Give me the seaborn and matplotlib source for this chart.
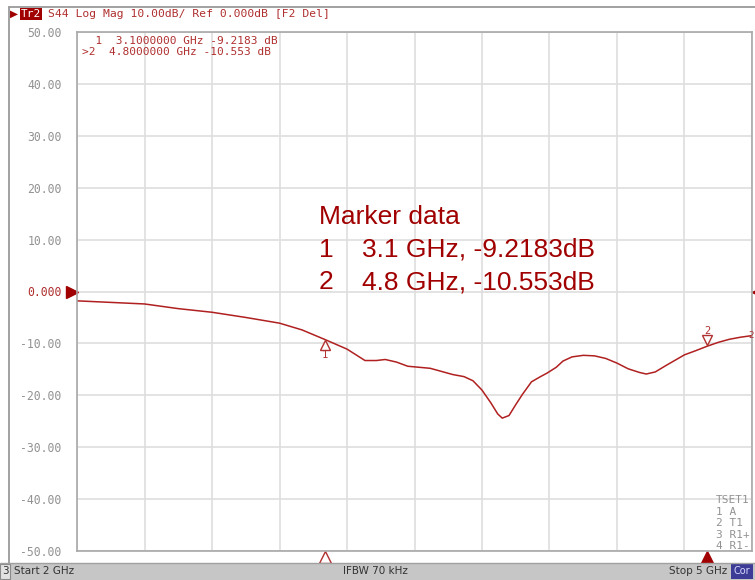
import numpy as np
import matplotlib
matplotlib.use("Agg")
import matplotlib.pyplot as plt
from matplotlib.patches import Rectangle
from matplotlib.lines import Line2D
from matplotlib.transforms import offset_copy
import seaborn as sns

# trace S44
freq_ghz = [2.00, 2.15, 2.30, 2.45, 2.60, 2.75, 2.90, 3.00, 3.10, 3.20,
            3.28, 3.33, 3.37, 3.42, 3.47, 3.52, 3.57, 3.62, 3.67, 3.72,
            3.76, 3.80, 3.84, 3.87, 3.89, 3.92, 3.95, 3.98, 4.02, 4.06,
            4.09, 4.13, 4.16, 4.20, 4.25, 4.30, 4.35, 4.40, 4.45, 4.50,
            4.53, 4.57, 4.62, 4.66, 4.70, 4.75, 4.80, 4.85, 4.90, 4.95, 5.00]
s44_db = [-1.8, -2.1, -2.4, -3.3, -4.0, -5.0, -6.1, -7.4, -9.2183, -11.1,
          -13.3, -13.3, -13.1, -13.6, -14.4, -14.6, -14.8, -15.4, -16.0, -16.4,
          -17.2, -19.0, -21.5, -23.6, -24.4, -23.9, -21.8, -19.8, -17.4, -16.4,
          -15.7, -14.6, -13.4, -12.6, -12.3, -12.4, -12.9, -13.8, -14.9, -15.6,
          -15.9, -15.5, -14.2, -13.2, -12.2, -11.4, -10.553, -9.8, -9.2, -8.8, -8.5]

marker_ids = ["1", "2"]
marker_freq = [3.1, 4.8]
marker_db = [-9.2183, -10.553]

y_ticks = [50, 40, 30, 20, 10, 0, -10, -20, -30, -40, -50]
y_labels = ["50.00", "40.00", "30.00", "20.00", "10.00", "0.000",
            "-10.00", "-20.00", "-30.00", "-40.00", "-50.00"]
tset_lines = ["TSET1", "1 A", "2 T1", "3 R1+", "4 R1-"]

W, H = 755, 580
TRACE = "#b02020"
MKTXT = "#b03030"
BIG = "#a00000"
GRAY = "#929292"
MONO = "DejaVu Sans Mono"

sns.set_style("white")
plt.rcParams["font.family"] = ["Liberation Sans", "DejaVu Sans"]

fig = plt.figure(figsize=(W / 100, H / 100), dpi=100)
fig.patch.set_facecolor("white")


def fx(x):
    return x / W


def fy(y):
    return 1 - y / H


ax = fig.add_axes([fx(77), fy(551), (752 - 77) / W, (551 - 32) / H])
sns.lineplot(x=freq_ghz, y=s44_db, ax=ax, color=TRACE, lw=1.1)

ax.set_xlim(2, 5)
ax.set_ylim(-50, 50)
ax.set_xticks(np.linspace(2, 5, 11))
ax.set_xticklabels([])
ax.set_yticks(y_ticks)
ax.set_yticklabels(y_labels, family=MONO, fontsize=8.3, color=GRAY)
ax.get_yticklabels()[5].set_color(MKTXT)
ax.tick_params(length=0, pad=11)
ax.grid(True, color="#dedede", lw=1.2)
for s in ax.spines.values():
    s.set_color("#a8a8a8")
    s.set_linewidth(1.2)

# markers on the trace
m1 = offset_copy(ax.transData, fig=fig, x=0, y=-6, units="dots")
ax.plot([marker_freq[0]], [marker_db[0]], marker="^", ms=7, mfc="white",
        mec=MKTXT, mew=1, transform=m1, clip_on=False)
ax.text(marker_freq[0], marker_db[0], marker_ids[0], color=MKTXT, family=MONO,
        fontsize=7.5, ha="center", va="top",
        transform=offset_copy(ax.transData, fig=fig, x=0, y=-11, units="dots"))
m2 = offset_copy(ax.transData, fig=fig, x=0, y=6, units="dots")
ax.plot([marker_freq[1]], [marker_db[1]], marker="v", ms=7, mfc="white",
        mec=MKTXT, mew=1, transform=m2, clip_on=False)
ax.text(marker_freq[1], marker_db[1], marker_ids[1], color=MKTXT, family=MONO,
        fontsize=7.5, ha="center", va="bottom",
        transform=offset_copy(ax.transData, fig=fig, x=0, y=10, units="dots"))

# stimulus triangles under the axis
xtr = ax.get_xaxis_transform()
ax.plot([marker_freq[0]], [-0.011], marker="^", ms=9, mfc="white", mec=MKTXT,
        mew=1, transform=xtr, clip_on=False)
ax.plot([marker_freq[1]], [-0.011], marker="^", ms=9, color="#a00000",
        transform=xtr, clip_on=False)

# reference level arrows
ytr = ax.get_yaxis_transform()
ax.plot([-0.008], [0], marker=">", ms=9, color="#a00000", transform=ytr, clip_on=False)
ax.plot([1.008], [0], marker="<", ms=7, color="#a00000", transform=ytr, clip_on=False)

# marker table (small, instrument font)
fig.text(fx(82), fy(41), "  1  3.1000000 GHz -9.2183 dB", family=MONO,
         fontsize=8, color=MKTXT, va="center")
fig.text(fx(82), fy(52), ">2  4.8000000 GHz -10.553 dB", family=MONO,
         fontsize=8, color=MKTXT, va="center")

# big marker data box
fig.text(fx(319), fy(217), "Marker data", fontsize=19, color=BIG, va="center")
for i, (mid, f, d) in enumerate(zip(marker_ids, marker_freq, marker_db)):
    yy = 250 + i * 32.5
    fig.text(fx(319), fy(yy), mid, fontsize=19, color=BIG, va="center")
    fig.text(fx(362), fy(yy), f"{f:g} GHz, {d:g}dB", fontsize=19, color=BIG, va="center")

# TSET block
for i, t in enumerate(tset_lines):
    fig.text(fx(716), fy(500 + i * 11.6), t, family=MONO, fontsize=8,
             color=GRAY, va="center")

# window frame
fig.add_artist(Line2D([fx(9), 1], [fy(7), fy(7)], color="#9a9a9a", lw=1.3))
fig.add_artist(Line2D([fx(9), fx(9)], [fy(7), fy(563)], color="#9a9a9a", lw=1.3))

# header
fig.text(fx(10), fy(14), "\u25B6", fontsize=7.5, color="#a00000", va="center",
         family="DejaVu Sans")
fig.text(fx(21), fy(14), "Tr2", family=MONO, fontsize=8, color="white", va="center",
         bbox=dict(boxstyle="square,pad=0.1", fc="#a00000", ec="none"))
fig.text(fx(48), fy(14), "S44 Log Mag 10.00dB/ Ref 0.000dB [F2 Del]", family=MONO,
         fontsize=8.2, color=MKTXT, va="center")

# trace-end label at the right edge
fig.text(fx(754), fy(336), "2", family=MONO, fontsize=6.5, color=MKTXT,
         ha="right", va="center")

# status bar
fig.add_artist(Rectangle((0, 0), 1, 17 / H, transform=fig.transFigure,
                         fc="#c6c6c6", ec="none"))
fig.add_artist(Line2D([0, 1], [17 / H, 17 / H], color="#a0a0a0", lw=1))
fig.add_artist(Rectangle((0, 1 / H), fx(10), 15 / H, transform=fig.transFigure,
                         fc="#e2e2e2", ec="#8a8a8a", lw=0.8))
fig.text(fx(5), fy(571.5), "3", fontsize=7.5, color="#333333", ha="center", va="center",
         family="DejaVu Sans")
fig.text(fx(14), fy(571.5), "Start 2 GHz", fontsize=7.5, color="#333333", va="center",
         family="DejaVu Sans")
fig.text(fx(375), fy(571.5), "IFBW 70 kHz", fontsize=7.5, color="#333333",
         ha="center", va="center", family="DejaVu Sans")
fig.text(fx(727), fy(571.5), "Stop 5 GHz", fontsize=7.5, color="#333333",
         ha="right", va="center", family="DejaVu Sans")
fig.add_artist(Rectangle((fx(731), 1 / H), fx(753) - fx(731), 15 / H,
                         transform=fig.transFigure, fc="#3c3c96", ec="none"))
fig.text(fx(742), fy(571.5), "Cor", fontsize=7, color="#d8d8ff", ha="center",
         va="center", family="DejaVu Sans")

fig.savefig("out.png", dpi=100)
